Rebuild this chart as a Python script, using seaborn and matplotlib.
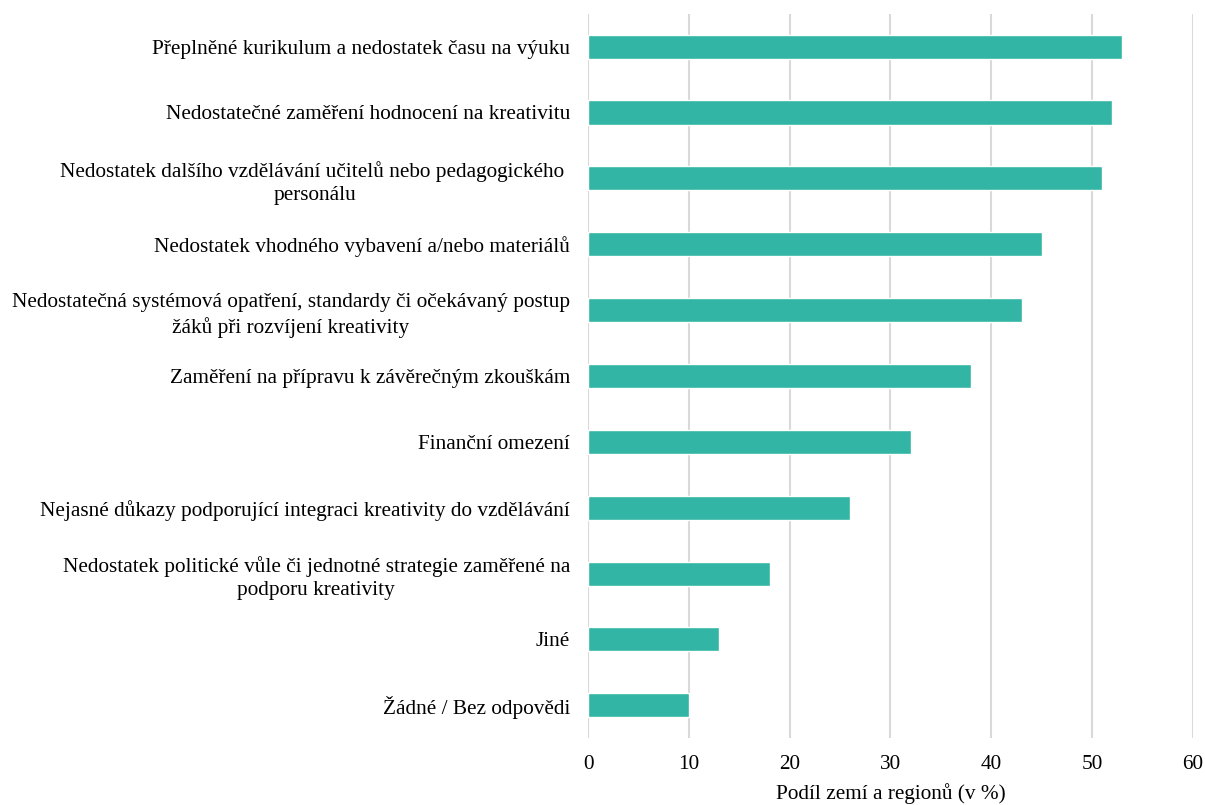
import matplotlib
matplotlib.use("Agg")
import matplotlib.pyplot as plt
import seaborn as sns
import pandas as pd

categories = [
    "Přeplněné kurikulum a nedostatek času na výuku",
    "Nedostatečné zaměření hodnocení na kreativitu",
    "Nedostatek dalšího vzdělávání učitelů nebo pedagogického \npersonálu",
    "Nedostatek vhodného vybavení a/nebo materiálů",
    "Nedostatečná systémová opatření, standardy či očekávaný postup\nžáků při rozvíjení kreativity",
    "Zaměření na přípravu k závěrečným zkouškám",
    "Finanční omezení",
    "Nejasné důkazy podporující integraci kreativity do vzdělávání",
    "Nedostatek politické vůle či jednotné strategie zaměřené na\npodporu kreativity",
    "Jiné",
    "Žádné / Bez odpovědi",
]
values = [53, 52, 51, 45, 43, 38, 32, 26, 18, 13, 10]
x_ticks = [0, 10, 20, 30, 40, 50, 60]
x_label = "Podíl zemí a regionů (v %)"

sns.set_theme(style="white")
plt.rcParams["font.family"] = ["Liberation Serif", "DejaVu Serif"]
plt.rcParams["text.color"] = "black"

df = pd.DataFrame({"kategorie": categories, "hodnota": values})

fig = plt.figure(figsize=(12.05, 8.05), dpi=100)
ax = fig.add_axes([0.488, 0.083, 0.502, 0.9])

sns.barplot(data=df, y="kategorie", x="hodnota", color="#33b5a5",
            saturation=1, width=0.365, ax=ax, orient="h")

fs = 15.3
ax.set_xlim(0, 60)
ax.set_ylim(len(categories) - 0.5, -0.5)
ax.set_xticks(x_ticks)
ax.set_xticklabels([str(t) for t in x_ticks], fontsize=fs, color="black")
ax.set_yticks(range(len(categories)))
ax.set_yticklabels(categories, fontsize=fs, ha="right", multialignment="center",
                   linespacing=1.32, color="black")
ax.set_ylabel("")
ax.set_xlabel(x_label, fontsize=fs, labelpad=7, color="black")
ax.grid(axis="x", color="#d9d9d9", linewidth=1.5)
ax.set_axisbelow(True)
for s in ax.spines.values():
    s.set_visible(False)
ax.tick_params(axis="y", length=0, pad=13)
ax.tick_params(axis="x", length=0, pad=12)

fig.savefig("out.png", dpi=100)
